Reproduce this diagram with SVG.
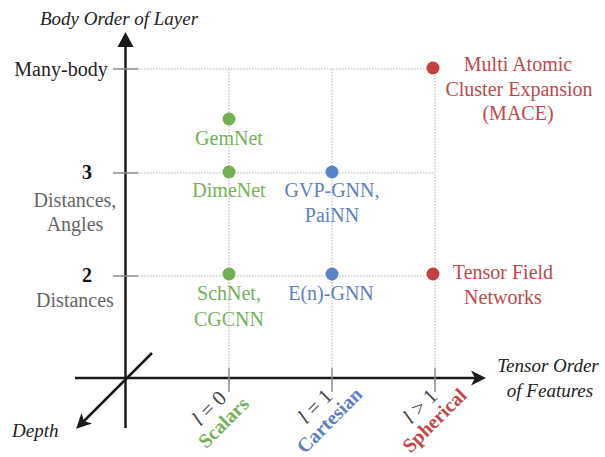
<svg xmlns="http://www.w3.org/2000/svg" width="605" height="457" viewBox="0 0 605 457">
<style>
text{font-family:"Liberation Serif","Times New Roman",serif;}
.ax{stroke:#1a1a1a;stroke-width:2.5;fill:none;}
.tick{stroke:#8a8a8a;stroke-width:1.5;}
.grid{stroke:#b0b0b0;stroke-width:1;stroke-dasharray:1.5 1.5;fill:none;}
.it{font-style:italic;font-size:19px;fill:#222;}
.yl{font-size:20px;fill:#666;text-anchor:middle;}
.num{font-size:20px;font-weight:bold;fill:#111;text-anchor:middle;}
.lab{font-size:20px;text-anchor:middle;}
.g{fill:#72b050;}
.b{fill:#5a83c8;}
.r{fill:#c2413f;}
.gt{fill:#76b05a;}
.bt{fill:#5f7fc0;}
.rt{fill:#c0484a;}
.xl{font-size:21px;fill:#444;text-anchor:middle;}
.xb{font-size:20px;font-weight:bold;text-anchor:middle;}
</style>
<defs>
<marker id="stealth" markerUnits="userSpaceOnUse" markerWidth="20" markerHeight="20" refX="0" refY="0" orient="auto" style="overflow:visible">
<path d="M4,0 L-11,-7.5 L-7,0 L-11,7.5 Z" fill="#1a1a1a"/>
</marker>
<marker id="tri" markerUnits="userSpaceOnUse" markerWidth="20" markerHeight="20" refX="0" refY="0" orient="auto" style="overflow:visible">
<path d="M4,0 L-11,-8 L-11,8 Z" fill="#1a1a1a"/>
</marker>
</defs>

<g id="grid">
<path class="grid" d="M138,69 H435 M138,173 H435 M138,276 H435 M229,69 V368 M332,69 V368 M435,69 V368"/>
</g>

<g id="connectors">
<line class="ax" x1="125.5" y1="428" x2="125.5" y2="36" marker-end="url(#tri)"/>
<line class="ax" x1="75" y1="378" x2="482" y2="378" marker-end="url(#stealth)"/>
<line class="ax" x1="152" y1="353" x2="79" y2="426" stroke-width="2.2" marker-end="url(#stealth)"/>
<path class="tick" d="M113,69 H138 M113,173 H138 M113,276 H138 M229,368 V392 M332,368 V392 M435,368 V392"/>
</g>

<g id="axis-labels">
<text class="it" x="40" y="25">Body Order of Layer</text>
<text class="it" x="548" y="372" text-anchor="middle">Tensor Order</text>
<text class="it" x="550" y="397" text-anchor="middle">of Features</text>
<text class="it" x="12" y="437">Depth</text>
<text x="61" y="76" font-size="20" fill="#222" text-anchor="middle">Many-body</text>
<text class="num" x="87" y="179">3</text>
<text class="yl" x="75" y="207">Distances,</text>
<text class="yl" x="75" y="231">Angles</text>
<text class="num" x="87" y="282">2</text>
<text class="yl" x="75" y="307">Distances</text>
</g>

<g id="x-scalars" transform="translate(214,413) rotate(-45)">
<text class="xl" x="0" y="0"><tspan font-style="italic">l</tspan> = 0</text>
<text class="xb gt" x="0" y="20">Scalars</text>
</g>
<g id="x-cartesian" transform="translate(320,411) rotate(-45)">
<text class="xl" x="0" y="0"><tspan font-style="italic">l</tspan> = 1</text>
<text class="xb bt" x="0" y="20">Cartesian</text>
</g>
<g id="x-spherical" transform="translate(425,411) rotate(-45)">
<text class="xl" x="0" y="0"><tspan font-style="italic">l</tspan> &gt; 1</text>
<text class="xb rt" x="0" y="20">Spherical</text>
</g>

<g id="gemnet">
<circle class="g" cx="229" cy="119" r="6.5"/>
<text class="lab gt" x="229" y="145">GemNet</text>
</g>
<g id="dimenet">
<circle class="g" cx="229" cy="172" r="6.5"/>
<text class="lab gt" x="229" y="197">DimeNet</text>
</g>
<g id="gvp-painn">
<circle class="b" cx="332" cy="172" r="6.5"/>
<text class="lab bt" x="332" y="197">GVP-GNN,</text>
<text class="lab bt" x="332" y="222">PaiNN</text>
</g>
<g id="schnet">
<circle class="g" cx="229" cy="274" r="6.5"/>
<text class="lab gt" x="229" y="300">SchNet,</text>
<text class="lab gt" x="229" y="326">CGCNN</text>
</g>
<g id="egnn">
<circle class="b" cx="332" cy="274" r="6.5"/>
<text class="lab bt" x="331" y="300">E(n)-GNN</text>
</g>
<g id="mace">
<circle class="r" cx="433" cy="68" r="6.5"/>
<text class="lab rt" x="518" y="71">Multi Atomic</text>
<text class="lab rt" x="519" y="96">Cluster Expansion</text>
<text class="lab rt" x="518" y="120">(MACE)</text>
</g>
<g id="tfn">
<circle class="r" cx="433" cy="274" r="6.5"/>
<text class="lab rt" x="503" y="279">Tensor Field</text>
<text class="lab rt" x="503" y="304">Networks</text>
</g>
</svg>
